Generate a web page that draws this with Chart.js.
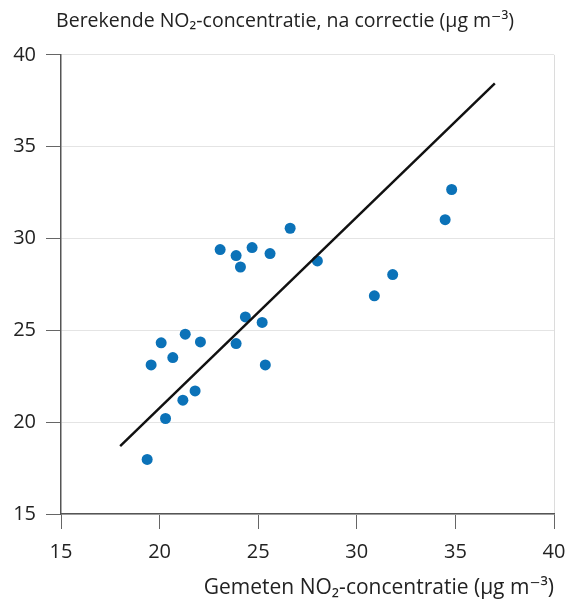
<!DOCTYPE html>
<html><head><meta charset="utf-8">
<script src="https://cdn.jsdelivr.net/npm/chart.js@4/dist/chart.umd.min.js"></script>
<style>html,body{margin:0;padding:0;background:#fff}#wrap{width:570px;height:601px}</style>
</head><body><div id="wrap"><canvas id="c" width="570" height="601"></canvas></div>
<script>
// Measured (x) vs computed-after-correction (y) NO2 concentrations, µg m-3
const measuredNO2 = [26.62, 23.07, 23.88, 24.69, 25.60, 24.10, 28.00, 24.35, 25.20, 21.30, 20.08, 22.07,
                     23.88, 20.67, 19.57, 25.36, 21.80, 21.18, 20.30, 19.37, 34.81, 34.48, 31.82, 30.89];
const computedNO2 = [30.56, 29.40, 29.07, 29.51, 29.18, 28.45, 28.78, 25.73, 25.43, 24.79, 24.32, 24.37,
                     24.28, 23.52, 23.12, 23.12, 21.70, 21.20, 20.20, 17.97, 32.67, 31.03, 28.04, 26.88];
// Regression line end points
const fitX = [18.0, 37.0];
const fitY = [18.7, 38.45];
// Axis ticks
const xTicks = [15, 20, 25, 30, 35, 40];
const yTicks = [15, 20, 25, 30, 35, 40];
const titleText = 'Berekende NO₂-concentratie, na correctie (µg m⁻³)';
const xTitleText = 'Gemeten NO₂-concentratie (µg m⁻³)';

const FONT = "'Open Sans', 'DejaVu Sans', sans-serif";
const pts = measuredNO2.map((x, i) => ({x, y: computedNO2[i]}));
const line = fitX.map((x, i) => ({x, y: fitY[i]}));

new Chart(document.getElementById('c'), {
  type: 'scatter',
  data: {
    datasets: [
      {data: line, showLine: true, borderColor: '#111', borderWidth: 2.5, pointRadius: 0, order: 0},
      {data: pts, backgroundColor: '#0b72b8', borderColor: '#0b72b8', pointRadius: 5.5, borderWidth: 0, order: 1}
    ]
  },
  options: {
    responsive: false,
    devicePixelRatio: 1,
    animation: false,
    layout: {padding: 0},
    plugins: {
      legend: {display: false},
      tooltip: {enabled: false},
      title: {display: true, text: titleText, align: 'center', color: '#222',
              font: {family: FONT, size: 19.5, weight: 'normal'}, padding: {top: 9.5, bottom: 22}}
    },
    scales: {
      x: {
        type: 'linear', min: 15, max: 40,
        afterBuildTicks: s => { s.ticks = xTicks.map(v => ({value: v})); },
        afterFit: s => { s.height = 87; s.paddingLeft = 0; s.paddingRight = 16; },
        border: {color: '#555', width: 1.5},
        grid: {color: c => (c.tick && c.tick.value === 40) ? '#dcdcdc' : 'rgba(0,0,0,0)',
               tickColor: '#666', tickLength: 15, lineWidth: 1},
        ticks: {color: '#222', font: {family: FONT, size: 20}, padding: 11, maxRotation: 0},
        title: {display: true, text: xTitleText, align: 'end', color: '#222',
                font: {family: FONT, size: 21}, padding: {top: 2, bottom: 0}}
      },
      y: {
        type: 'linear', min: 15, max: 40,
        afterBuildTicks: s => { s.ticks = yTicks.map(v => ({value: v})); },
        afterFit: s => { s.width = 61; s.paddingTop = 0; s.paddingBottom = 0; },
        border: {color: '#555', width: 1.5},
        grid: {color: '#e4e4e4', tickColor: '#666', tickLength: 15, lineWidth: 1},
        ticks: {color: '#222', font: {family: FONT, size: 20}, padding: 10}
      }
    }
  }
});
</script></body></html>
